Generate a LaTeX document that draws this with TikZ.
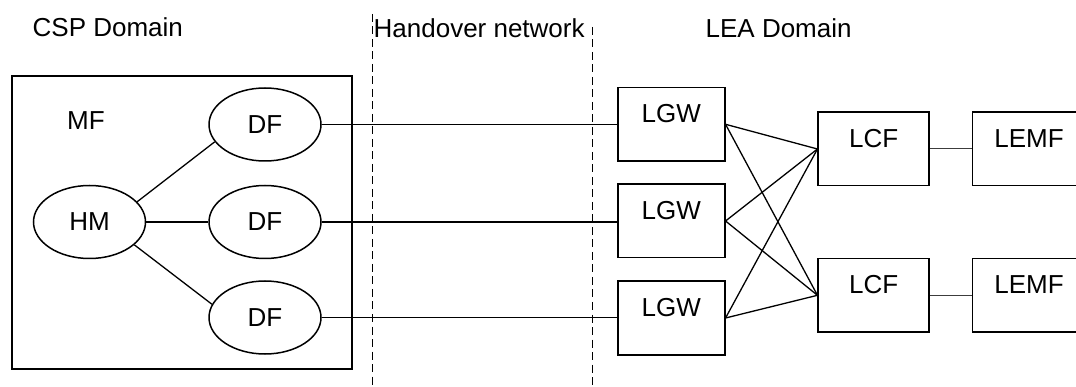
\documentclass[tikz,border=0pt]{standalone}
\usepackage{fontspec}
\setmainfont{Liberation Sans}
\usetikzlibrary{shapes.geometric}
\newcommand\FT{\fontsize{26}{30}\selectfont}
\definecolor{line_gray}{RGB}{60,60,60}

\begin{document}
\begin{tikzpicture}[x=1pt,y=-1pt,line width=1.3pt]
    \tikzstyle{txt}=[inner sep=0pt, font=\FT, text=black]
    \tikzstyle{oval}=[style=txt, draw=black, ellipse, minimum width=112pt, minimum height=73pt, line width=1.5pt]
    \tikzstyle{box}=[style=txt, draw=black, rectangle, minimum width=107pt, text height=35pt, text depth=38.5pt, line width=1.5pt]
    \tikzstyle{sep}=[dash pattern=on 8pt off 4.5pt, line width=1.4pt]
    \tikzstyle{thin}=[draw=line_gray, line width=1pt]

    \useasboundingbox (0,0) rectangle (1076,387);

    % domain titles and borders
    \node[txt,anchor=base west] (csp) at (32,37)    {CSP Domain};
    \node[txt,anchor=base west] (ho)  at (373,37.5) {Handover network};
    \node[txt,anchor=base west] (lea) at (705,37.5) {LEA Domain};
    \draw[sep] (372.7,14) -- (372.7,387);
    \draw[sep] (592.7,27) -- (592.7,387);

    % mediation function
    \node[draw=black, line width=1.5pt, minimum width=340pt, minimum height=293pt, inner sep=0pt] (mf) at (182,222.5) {};
    \node[txt]  (mfl) at (86,120.5)  {MF};
    \node[oval] (hm)  at (89.5,222)  {HM};
    \node[oval] (df1) at (265,124.5) {DF};
    \node[oval] (df2) at (265,222)   {DF};
    \node[oval] (df3) at (265,317.5) {DF};

    % law enforcement side
    \node[box] (lgw1) at (671.3,124.3) {LGW};
    \node[box] (lgw2) at (671.3,221)   {LGW};
    \node[box] (lgw3) at (671.3,318)   {LGW};
    \node[box,minimum width=111pt] (lcf1)  at (873.7,149)   {LCF};
    \node[box,minimum width=111pt] (lcf2)  at (873.7,295.3) {LCF};
    \node[box,minimum width=113pt] (lemf1) at (1029,149)    {LEMF};
    \node[box,minimum width=113pt] (lemf2) at (1029,295.3)  {LEMF};

    \path[draw]
     (hm.23)  edge (df1.199)
     (hm)     edge (df2)
     (hm.333) edge (df3.166)
     (df1.east) edge (df1.east -| lgw1.west)
     (df2.east) edge (df2.east -| lgw2.west)
     (df3.east) edge (df3.east -| lgw3.west)
     (lgw1.east) edge (lcf1.west)
     (lgw1.east) edge (lcf2.west)
     (lgw2.east) edge (lcf1.west)
     (lgw2.east) edge (lcf2.west)
     (lgw3.east) edge (lcf1.west)
     (lgw3.east) edge (lcf2.west)
     ;
    \draw[thin] (lcf1) -- (lemf1);
    \draw[thin] (lcf2) -- (lemf2);
\end{tikzpicture}
\end{document}
